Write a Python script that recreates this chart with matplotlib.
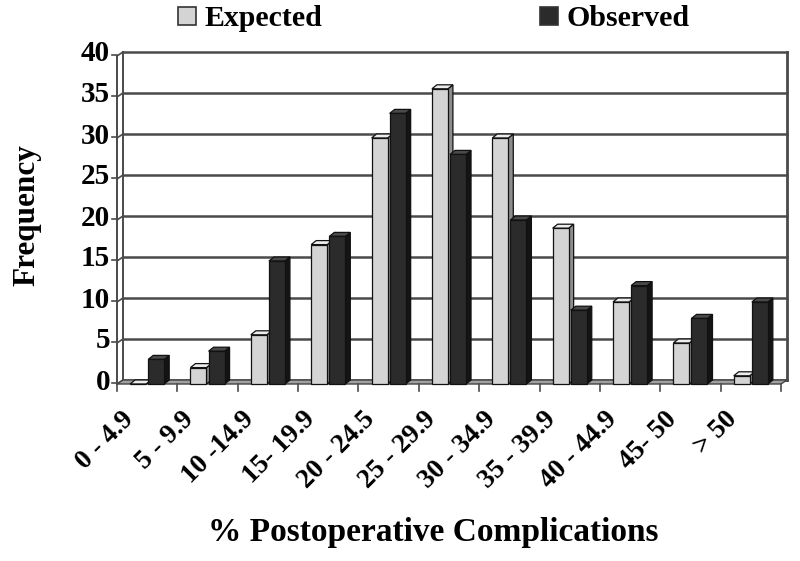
import matplotlib
matplotlib.use('Agg')
import matplotlib.pyplot as plt
from matplotlib.patches import Polygon, Rectangle

# ---------------- data ----------------
categories = ["0 - 4.9", "5 - 9.9", "10 -14.9", "15- 19.9", "20 - 24.5",
              "25 - 29.9", "30 - 34.9", "35 - 39.9", "40 - 44.9", "45- 50", "> 50"]
expected = [0, 2, 6, 17, 30, 36, 30, 19, 10, 5, 1]
observed = [3, 4, 15, 18, 33, 28, 20, 9, 12, 8, 10]
y_ticks = [0, 5, 10, 15, 20, 25, 30, 35, 40]
series_names = ["Expected", "Observed"]

plt.rcParams['font.family'] = ['Liberation Serif', 'DejaVu Serif']
plt.rcParams['font.weight'] = 'bold'

W, H = 800, 561
fig = plt.figure(figsize=(W / 100, H / 100), dpi=100)
ax = fig.add_axes([123 / W, 181 / H, 664 / W, 328 / H])
n = len(categories)
ax.set_xlim(-0.5, n - 0.5)
ax.set_ylim(y_ticks[0], y_ticks[-1])
ax.axis('off')

pos = ax.get_position()
ppx = pos.width * W / n                       # pixels per category
ppy = pos.height * H / (y_ticks[-1] - y_ticks[0])  # pixels per unit


def px(d):
    return d / ppx


def py(d):
    return d / ppy


FX, FY = 6, 4     # depth of the floor / walls (pixels)
BX, BY = 5, 4     # depth of the bars (pixels)
grid_c = '#4a4a4a'
x0a, x1a = -0.5, n - 0.5
ymax = y_ticks[-1]

# floor
floor = Polygon([(x0a, 0), (x1a, 0), (x1a - px(FX), -py(FY)), (x0a - px(FX), -py(FY))],
                closed=True, facecolor='#a0a0a0', edgecolor='#444444', lw=1.0,
                clip_on=False, zorder=1)
ax.add_patch(floor)

# back wall gridlines + left wall
for v in y_ticks:
    ax.plot([x0a, x1a], [v, v], color=grid_c, lw=1.8, clip_on=False, zorder=0.5)
    ax.plot([x0a - px(FX), x0a], [v - py(FY), v], color=grid_c, lw=1.2,
            clip_on=False, zorder=0.5)
ax.plot([x0a, x0a], [0, ymax], color=grid_c, lw=1.4, clip_on=False, zorder=0.5)
ax.plot([x1a, x1a], [0, ymax], color=grid_c, lw=2.0, clip_on=False, zorder=0.5)
ax.plot([x0a - px(FX), x0a - px(FX)], [-py(FY), ymax - py(FY)], color=grid_c,
        lw=1.4, clip_on=False, zorder=0.6)

# y ticks and labels
for v in y_ticks:
    ax.plot([x0a - px(FX) - px(5), x0a - px(FX)], [v - py(FY) + py(1), v - py(FY) + py(1)],
            color=grid_c, lw=1.2, clip_on=False)
    ax.text(x0a - px(FX) - px(7), v - py(FY) + py(2), str(v), ha='right', va='center',
            fontsize=21, fontweight='bold')

# x ticks and labels
for k in range(n + 1):
    xf = -0.5 + k - px(FX)
    ax.plot([xf, xf], [-py(FY), -py(FY) - py(7)], color=grid_c, lw=1.2, clip_on=False)
for i, lab in enumerate(categories):
    ax.text(i - px(FX) - px(26), -py(FY) - py(23), lab, rotation=45,
            rotation_mode='anchor', ha='right', va='top', fontsize=19.5,
            fontweight='bold')

# bars (3D look)
w = 0.265
offsets = [-0.167, 0.133]
styles = [
    dict(front='#d4d4d4', top='#ececec', side='#8c8c8c'),
    dict(front='#2b2b2b', top='#4a4a4a', side='#141414'),
]
z = 2
for i in range(n):
    for s, vals in enumerate([expected, observed]):
        v = vals[i]
        st = styles[s]
        xb = i + offsets[s] - w / 2
        xf = xb - px(BX)
        yb = -py(BY)
        side = Polygon([(xf + w, yb), (xf + w, v - py(BY)), (xb + w, v), (xb + w, 0)],
                       closed=True, facecolor=st['side'], edgecolor='#111111', lw=0.9,
                       clip_on=False, zorder=z)
        top = Polygon([(xf, v - py(BY)), (xf + w, v - py(BY)), (xb + w, v), (xb, v)],
                      closed=True, facecolor=st['top'], edgecolor='#111111', lw=0.9,
                      clip_on=False, zorder=z)
        front = Rectangle((xf, yb), w, v, facecolor=st['front'], edgecolor='#111111',
                          lw=0.9, clip_on=False, zorder=z + 0.1)
        ax.add_patch(side)
        ax.add_patch(top)
        ax.add_patch(front)
        z += 0.2

# legend
handles = [Rectangle((0, 0), 1, 1, facecolor=styles[0]['front'], edgecolor='#333333', lw=1.2),
           Rectangle((0, 0), 1, 1, facecolor=styles[1]['front'], edgecolor='#333333', lw=1.2)]
fig.legend(handles, series_names, ncol=2, loc='center',
           bbox_to_anchor=(434 / W, 1 - 19 / H), frameon=False,
           prop=dict(family='Liberation Serif', weight='bold', size=21.5),
           handlelength=0.58, handleheight=0.58, handletextpad=0.3,
           columnspacing=7.3, borderpad=0)

# axis titles
fig.text(27 / W, 1 - 215 / H, 'Frequency', rotation=90, ha='center', va='center',
         fontsize=22.5, fontweight='bold')
fig.text(433 / W, 1 - 533 / H, '% Postoperative Complications', ha='center',
         va='center', fontsize=24, fontweight='bold')

fig.savefig('out.png', dpi=100)
